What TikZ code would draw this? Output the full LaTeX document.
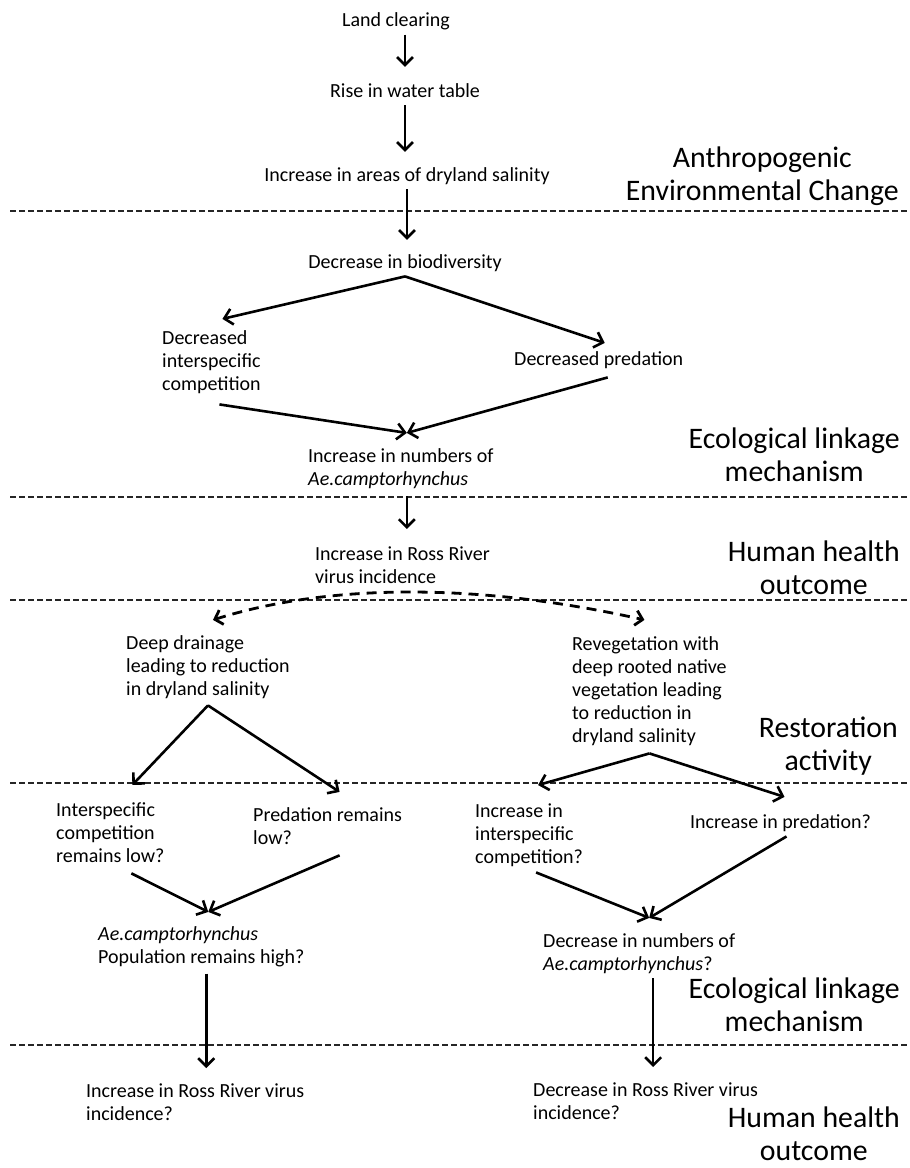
\documentclass[tikz,border=0pt]{standalone}
\usepackage{fontspec}
\setmainfont{Carlito}
\usetikzlibrary{arrows.meta}
\newcommand{\mainfs}{\fontsize{20}{23}\selectfont}
\newcommand{\labfs}{\fontsize{29.8}{33}\selectfont}
\begin{document}
\begin{tikzpicture}[x=1pt,y=-1pt,
  txt/.style={font=\mainfs, inner sep=0pt, align=left, anchor=base west},
  ctxt/.style={font=\mainfs, inner sep=0pt, anchor=base},
  lab/.style={font=\labfs, inner sep=0pt, align=center, anchor=base east},
  arr/.style={line width=2.6pt, -{Straight Barb[length=8pt,width=16pt]}},
  sep/.style={line width=2pt, black!85, dash pattern=on 6pt off 3pt},
  darr/.style={line width=2.8pt, dash pattern=on 10pt off 7pt,
     {Straight Barb[length=7pt,width=15pt]}-{Straight Barb[length=7pt,width=15pt]}}]
\useasboundingbox (0,0) rectangle (910,1168);

% separators
\draw[sep] (10,211) -- (910,211);
\draw[sep] (10,497) -- (910,497);
\draw[sep] (10,600) -- (910,600);
\draw[sep] (10,783) -- (910,783);
\draw[sep] (10,1045) -- (910,1045);

% section labels (position = baseline of last line)
\node[lab] (l1) at (899,200) {Anthropogenic\\Environmental Change};
\node[lab] (l2) at (900,481) {Ecological linkage\\mechanism};
\node[lab] (l3) at (900,594) {Human health\\outcome};
\node[lab] (l4) at (898,770) {Restoration\\activity};
\node[lab] (l5) at (900,1031) {Ecological linkage\\mechanism};
\node[lab] (l6) at (900,1160) {Human health\\outcome};

% nodes (position = baseline of last line)
\node[ctxt] (land) at (396,26) {Land clearing};
\node[ctxt] (rise) at (405,97) {Rise in water table};
\node[ctxt] (salin) at (407,181) {Increase in areas of dryland salinity};
\node[ctxt] (biod) at (405,268) {Decrease in biodiversity};
\node[txt] (dcomp) at (162,390) {Decreased\\interspecific\\competition};
\node[txt] (dpred) at (514,365) {Decreased predation};
\node[txt] (incnum) at (308,485) {Increase in numbers of\\\textit{Ae.camptorhynchus}};
\node[txt] (rrv) at (315,583) {Increase in Ross River\\virus incidence};
\node[txt] (deep) at (126,695) {Deep drainage\\leading to reduction\\in dryland salinity};
\node[txt] (reveg) at (572,742) {Revegetation with\\deep rooted native\\vegetation leading\\to reduction in\\dryland salinity};
\node[txt] (icomp) at (56,862) {Interspecific\\competition\\remains low?};
\node[txt] (pred) at (253,844) {Predation remains\\low?};
\node[txt] (ipcomp) at (475,863) {Increase in\\interspecific\\competition?};
\node[txt] (ipred) at (690,828) {Increase in predation?};
\node[txt] (popH) at (98,963) {\textit{Ae.camptorhynchus}\\Population remains high?};
\node[txt] (decnum) at (543,970) {Decrease in numbers of\\\textit{Ae.camptorhynchus}?};
\node[txt] (rrvinc) at (86,1120) {Increase in Ross River virus\\incidence?};
\node[txt] (rrvdec) at (533,1119) {Decrease in Ross River virus\\incidence?};

% top chain
\draw[arr] ([yshift=-5pt]land.south -| rise.north) -- ([yshift=16pt]rise.north);
\draw[arr] ([yshift=-8pt]rise.south) -- ([yshift=15pt]rise.south |- salin.north);
\draw[arr] ([yshift=-5pt]salin.south) -- ([yshift=14pt]salin.south |- biod.north);

% biodiversity split
\coordinate (ap1) at ([yshift=-5pt]biod.south);
\draw[arr] (ap1) -- ([xshift=11pt,yshift=11pt]dcomp.north);
\draw[arr] (ap1) -- ([xshift=6pt,yshift=8pt]dpred.north);

% merge
\coordinate (m1) at ([xshift=6pt,yshift=15pt]incnum.north);
\draw[arr] ([xshift=8pt,yshift=-11pt]dcomp.south) -- (m1);
\draw[arr] ([xshift=9pt,yshift=-9pt]dpred.south) -- (m1);

\coordinate (v0) at ([xshift=6pt,yshift=-8pt]incnum.south);
\coordinate (rrvtop) at ([yshift=17pt]rrv.north);
\draw[arr] (v0) -- (v0 |- rrvtop);

% dashed split
\draw[darr] ([xshift=5pt,yshift=15pt]deep.north) .. controls (330,583) and (480,583) .. ([xshift=-5pt,yshift=16pt]reveg.north);

% left branch
\coordinate (ap2) at ([yshift=-7pt]deep.south);
\draw[arr] (ap2) -- ([xshift=22pt,yshift=17pt]icomp.north);
\draw[arr] (ap2) -- ([xshift=12pt,yshift=15pt]pred.north);
\coordinate (m2) at ([xshift=7pt,yshift=14pt]popH.north);
\draw[arr] ([xshift=21pt,yshift=-11pt]icomp.south) -- (m2);
\draw[arr] ([xshift=12pt,yshift=-11pt]pred.south) -- (m2);
\coordinate (v1) at ([xshift=5pt,yshift=-7pt]popH.south);
\coordinate (rrvinctop) at ([yshift=15pt]rrvinc.north);
\draw[arr] (v1) -- (v1 |- rrvinctop);

% right branch
\coordinate (ap3) at ([yshift=-8pt]reveg.south);
\draw[arr] (ap3) -- ([xshift=9pt,yshift=18pt]ipcomp.north);
\draw[arr] (ap3) -- ([xshift=4pt,yshift=17pt]ipred.north);
\coordinate (m3) at ([xshift=10pt,yshift=15pt]decnum.north);
\draw[arr] ([xshift=7pt,yshift=-6pt]ipcomp.south) -- (m3);
\draw[arr] ([xshift=6pt,yshift=-5pt]ipred.south) -- (m3);
\coordinate (v2) at ([xshift=14pt,yshift=-5pt]decnum.south);
\coordinate (rrvdectop) at ([yshift=15pt]rrvdec.north);
\draw[arr] (v2) -- (v2 |- rrvdectop);
\end{tikzpicture}
\end{document}
